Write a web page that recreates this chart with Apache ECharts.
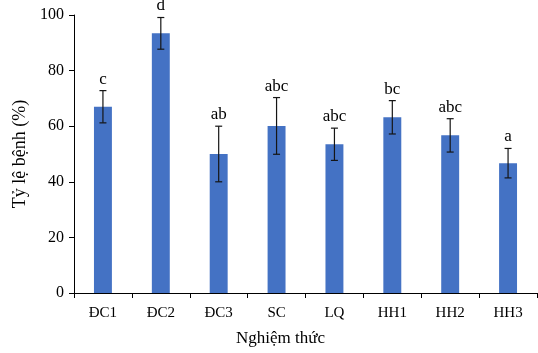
<!DOCTYPE html>
<html>
<head>
<meta charset="utf-8">
<script src="https://cdn.jsdelivr.net/npm/echarts@6/dist/echarts.min.js"></script>
<style>
  html, body { margin: 0; padding: 0; background: #fff; }
  #chart { width: 538px; height: 353px; }
</style>
</head>
<body>
<div id="chart"></div>
<script>
// Treatments, mean disease incidence (%), standard error and significance letters
const categories = ['ĐC1', 'ĐC2', 'ĐC3', 'SC', 'LQ', 'HH1', 'HH2', 'HH3'];
const means      = [67.0, 93.4, 50.0, 60.1, 53.5, 63.2, 56.7, 46.7];
const errors     = [5.8, 5.7, 10.0, 10.2, 5.8, 6.0, 6.0, 5.3];
const letters    = ['c', 'd', 'ab', 'abc', 'abc', 'bc', 'abc', 'a'];
const yTicks     = { min: 0, max: 100, interval: 20 };

const FONT = '"Liberation Serif", "Times New Roman", serif';
const BAR_COLOR = '#4472C4';
const ERR_COLOR = '#151515';

const errData = categories.map((c, i) => [i, means[i] - errors[i], means[i] + errors[i], letters[i]]);

const chart = echarts.init(document.getElementById('chart'));
chart.setOption({
  animation: false,
  grid: { left: 74, right: 1, top: 15, bottom: 60, containLabel: false },
  xAxis: {
    type: 'category',
    data: categories,
    boundaryGap: true,
    axisLine: { lineStyle: { color: '#000', width: 1 } },
    axisTick: { show: true, length: 5, lineStyle: { color: '#000' } },
    axisLabel: { color: '#000', fontFamily: FONT, fontSize: 15, margin: 13 }
  },
  yAxis: {
    type: 'value',
    min: yTicks.min, max: yTicks.max, interval: yTicks.interval,
    name: 'Tỷ lệ bệnh (%)',
    nameLocation: 'middle',
    nameGap: 43,
    nameTextStyle: { color: '#000', fontFamily: FONT, fontSize: 18 },
    axisLine: { show: true, lineStyle: { color: '#000', width: 1 } },
    axisTick: { show: true, length: 5, lineStyle: { color: '#000' } },
    axisLabel: { color: '#000', fontFamily: FONT, fontSize: 16, margin: 10 },
    splitLine: { show: false }
  },
  graphic: [{
    type: 'text',
    left: 236, top: 330,
    style: { text: 'Nghiệm thức', fill: '#000', font: '17px ' + FONT }
  }],
  series: [
    {
      type: 'bar',
      data: means,
      barWidth: '31%',
      itemStyle: { color: BAR_COLOR }
    },
    {
      type: 'custom',
      data: errData,
      z: 10,
      renderItem: function (params, api) {
        const x = api.coord([api.value(0), 0])[0];
        const lo = api.coord([api.value(0), api.value(1)])[1];
        const hi = api.coord([api.value(0), api.value(2)])[1];
        const half = 3.5;
        const line = { stroke: ERR_COLOR, lineWidth: 1.2 };
        return {
          type: 'group',
          children: [
            { type: 'line', shape: { x1: x, y1: hi, x2: x, y2: lo }, style: line },
            { type: 'line', shape: { x1: x - half, y1: hi, x2: x + half, y2: hi }, style: line },
            { type: 'line', shape: { x1: x - half, y1: lo, x2: x + half, y2: lo }, style: line },
            {
              type: 'text',
              style: {
                text: api.value(3),
                x: x, y: hi - 3,
                align: 'center', verticalAlign: 'bottom',
                fill: '#000',
                font: '17px ' + FONT
              }
            }
          ]
        };
      }
    }
  ]
});
</script>
</body>
</html>
